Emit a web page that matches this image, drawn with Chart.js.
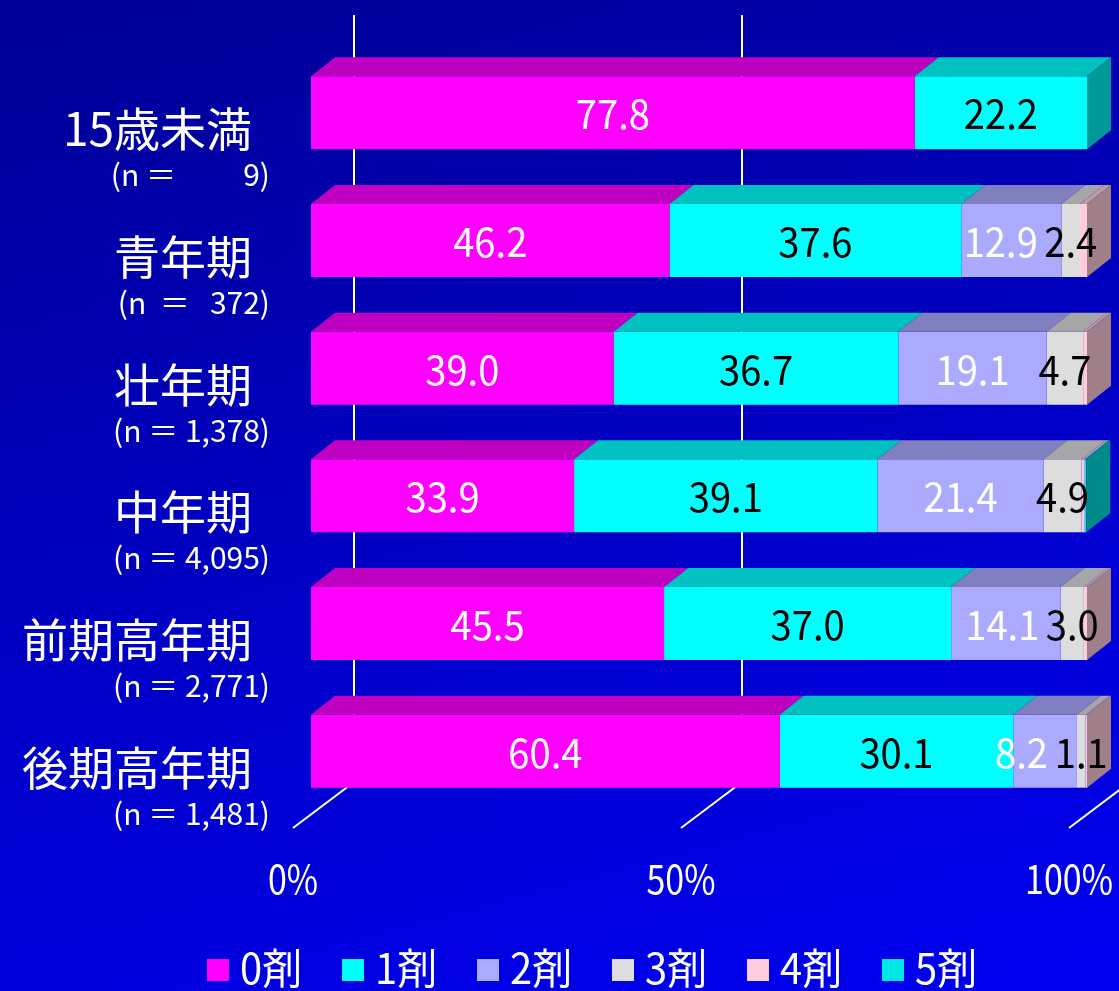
<!DOCTYPE html>
<html>
<head>
<meta charset="utf-8">
<script src="https://cdn.jsdelivr.net/npm/chart.js@4.4.1/dist/chart.umd.min.js"></script>
<style>
  html, body { margin: 0; padding: 0; }
  body {
    width: 1119px;
    height: 991px;
    overflow: hidden;
    background: linear-gradient(165deg, #000096 0%, #0000c4 50%, #0000f2 100%);
  }
</style>
</head>
<body>
<canvas id="drugChart" width="1119" height="991"></canvas>
<script>
// Age groups and their sample sizes
const categories = ['15歳未満', '青年期', '壮年期', '中年期', '前期高年期', '後期高年期'];
const sampleSizes = ['(n ＝          9)', '(n  ＝   372)', '(n ＝ 1,378)', '(n ＝ 4,095)', '(n ＝ 2,771)', '(n ＝ 1,481)'];
const seriesNames = ['0剤', '1剤', '2剤', '3剤', '4剤', '5剤'];

// Share (%) of each number of drugs, per age group
const drugs0 = [77.8, 46.2, 39.0, 33.9, 45.5, 60.4];
const drugs1 = [22.2, 37.6, 36.7, 39.1, 37.0, 30.1];
const drugs2 = [0, 12.9, 19.1, 21.4, 14.1, 8.2];
const drugs3 = [0, 2.4, 4.7, 4.9, 3.0, 1.1];
const drugs4 = [0, 0.9, 0.5, 0.4, 0.4, 0.2];
const drugs5 = [0, 0, 0, 0.2, 0, 0];
const tickValues = [0, 50, 100];

const FONT = '"Noto Sans CJK JP", "Noto Sans", sans-serif';

// front / top face / side face / value label colour
const styles = [
  { front: '#ff00ff', top: '#c000c0', side: '#990099', label: '#ffffff' },
  { front: '#00ffff', top: '#00c0c0', side: '#009999', label: '#000000' },
  { front: '#aaaaff', top: '#8080c0', side: '#666699', label: '#ffffff' },
  { front: '#dddddd', top: '#a6a6a6', side: '#858585', label: '#000000' },
  { front: '#ffccdd', top: '#c099a6', side: '#a08088', label: null },
  { front: '#00e6e6', top: '#00adad', side: '#008a8a', label: null },
];

// 3D depth of the bars and of the back wall
const BAR_DX = 24, BAR_DY = -19;
const WALL_DX = 43, WALL_DY = -33;
const FLOOR_DX = -18, FLOOR_DY = 13;

function condensed(ctx, text, x, y, align, size, color, sx) {
  ctx.save();
  ctx.font = size + 'px ' + FONT;
  ctx.fillStyle = color;
  ctx.textBaseline = 'middle';
  const w = ctx.measureText(text).width * sx;
  let left = x;
  if (align === 'center') left = x - w / 2;
  if (align === 'right') left = x - w;
  ctx.translate(left, y);
  ctx.scale(sx, 1);
  ctx.textAlign = 'left';
  ctx.fillText(text, 0, 0);
  ctx.restore();
  return w;
}

const threeD = {
  id: 'threeD',
  beforeDatasetsDraw(chart) {
    const { ctx, chartArea, scales } = chart;
    ctx.save();
    ctx.strokeStyle = '#ffffff';
    ctx.lineWidth = 2;
    tickValues.forEach((v) => {
      const p = scales.x.getPixelForValue(v);
      ctx.beginPath();
      ctx.moveTo(p + WALL_DX, 15);
      ctx.lineTo(p + WALL_DX, chartArea.bottom + WALL_DY);
      ctx.lineTo(p + FLOOR_DX, chartArea.bottom + FLOOR_DY);
      ctx.stroke();
    });
    ctx.restore();
  },
  afterDatasetsDraw(chart) {
    const { ctx, chartArea, scales } = chart;
    const metas = chart.data.datasets.map((d, i) => chart.getDatasetMeta(i));

    // top faces
    metas.forEach((meta, di) => {
      meta.data.forEach((bar, i) => {
        if (!chart.data.datasets[di].data[i]) return;
        const { x, y, base, height } = bar.getProps(['x', 'y', 'base', 'height'], true);
        const top = y - height / 2;
        ctx.fillStyle = styles[di].top;
        ctx.beginPath();
        ctx.moveTo(base, top);
        ctx.lineTo(x, top);
        ctx.lineTo(x + BAR_DX, top + BAR_DY);
        ctx.lineTo(base + BAR_DX, top + BAR_DY);
        ctx.closePath();
        ctx.fill();
      });
    });

    // right side face, coloured by the last non-empty segment
    categories.forEach((c, i) => {
      let last = -1;
      chart.data.datasets.forEach((d, di) => { if (d.data[i] > 0) last = di; });
      if (last < 0) return;
      const bar = metas[last].data[i];
      const { x, y, height } = bar.getProps(['x', 'y', 'height'], true);
      const top = y - height / 2, bottom = y + height / 2;
      ctx.fillStyle = styles[last].side;
      ctx.beginPath();
      ctx.moveTo(x, top);
      ctx.lineTo(x + BAR_DX, top + BAR_DY);
      ctx.lineTo(x + BAR_DX, bottom + BAR_DY);
      ctx.lineTo(x, bottom);
      ctx.closePath();
      ctx.fill();
    });

    // value labels, pushed left when they would run into the next one
    ctx.font = '40px ' + FONT;
    categories.forEach((c, i) => {
      const labels = [];
      chart.data.datasets.forEach((d, di) => {
        const v = d.data[i];
        if (!v || !styles[di].label) return;
        const { x, y, base } = metas[di].data[i].getProps(['x', 'y', 'base'], true);
        const text = v.toFixed(1);
        const w = ctx.measureText(text).width * 0.93;
        labels.push({ text, cx: (x + base) / 2, y, w, color: styles[di].label });
      });
      for (let k = labels.length - 2; k >= 0; k--) {
        const next = labels[k + 1];
        const room = next.cx - next.w / 2 - 8;
        if (labels[k].cx + labels[k].w / 2 > room) labels[k].cx = room - labels[k].w / 2;
      }
      labels.forEach((l) => condensed(ctx, l.text, l.cx, l.y + 1, 'center', 41, l.color, 0.93));
    });

    // category labels
    categories.forEach((c, i) => {
      const y = scales.y.getPixelForValue(i);
      condensed(ctx, c, 252, y + 16, 'right', 46, '#ffffff', 1);
      condensed(ctx, sampleSizes[i], 270, y + 62, 'right', 30, '#ffffff', 1);
    });

    // x tick labels on the front edge of the floor
    tickValues.forEach((v) => {
      const p = scales.x.getPixelForValue(v);
      condensed(ctx, v + '%', p + FLOOR_DX, chartArea.bottom + 64, 'center', 40, '#ffffff', 0.85);
    });

    // legend
    let lx = 207;
    seriesNames.forEach((name, di) => {
      ctx.fillStyle = styles[di].front;
      ctx.fillRect(lx, 959, 22, 22);
      condensed(ctx, name, lx + 33, 968, 'left', 42, '#ffffff', 0.95);
      lx += 135;
    });
  },
};

const seriesData = [drugs0, drugs1, drugs2, drugs3, drugs4, drugs5];

new Chart(document.getElementById('drugChart'), {
  type: 'bar',
  data: {
    labels: categories,
    datasets: seriesNames.map((name, di) => ({
      label: name,
      data: seriesData[di],
      backgroundColor: styles[di].front,
      borderWidth: 0,
      barPercentage: 0.572,
      categoryPercentage: 1,
    })),
  },
  options: {
    indexAxis: 'y',
    responsive: false,
    devicePixelRatio: 1,
    animation: false,
    layout: {
      padding: { left: 303, right: 32, top: 49, bottom: 168 },
    },
    plugins: {
      legend: false,
      tooltip: { enabled: false },
    },
    scales: {
      x: {
        stacked: true,
        min: 0,
        max: 100,
        ticks: { display: false },
        grid: { display: false },
        border: { display: false },
      },
      y: {
        stacked: true,
        ticks: { display: false },
        grid: { display: false },
        border: { display: false },
      },
    },
  },
  plugins: [threeD],
});
</script>
</body>
</html>
